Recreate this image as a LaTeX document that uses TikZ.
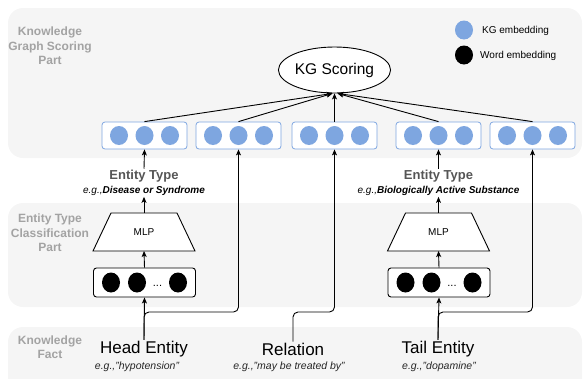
\documentclass[tikz,border=0pt]{standalone}
\usepackage{fontspec}
\setmainfont{Liberation Sans}
\usetikzlibrary{arrows.meta,shapes.geometric,calc}
\definecolor{panel}{HTML}{F5F5F5}
\definecolor{lbl}{HTML}{A3A3A3}
\definecolor{kgblue}{HTML}{7EA6E0}
\definecolor{typegray}{HTML}{555555}
\begin{document}
\begin{tikzpicture}[x=1pt,y=-1pt,
  panelbox/.style={fill=panel,draw=none,rounded corners=15pt},
  partlabel/.style={text=lbl,font=\fontsize{12}{14.5}\selectfont\bfseries,align=center},
  arr/.style={-{Stealth[length=6pt,width=5pt,inset=1.5pt]},line width=0.9pt},
  conn/.style={line width=0.9pt},
  kgbox/.style={draw=kgblue,line width=0.8pt,rounded corners=3pt,minimum width=85pt,minimum height=27pt,inner sep=0pt,fill=white},
  wbox/.style={draw=black,line width=0.9pt,rounded corners=3pt,minimum width=102pt,minimum height=29pt,inner sep=0pt,fill=white},
  kgdot/.style={fill=kgblue},
  typelbl/.style={text=typegray,font=\fontsize{13}{15}\selectfont\bfseries,inner sep=1pt},
  eglbl/.style={font=\fontsize{10}{12}\selectfont\itshape,inner sep=1pt},
  factlbl/.style={font=\fontsize{17}{20}\selectfont,inner sep=1pt},
  factex/.style={font=\fontsize{10.5}{12}\selectfont\itshape,text=black!85,inner sep=1pt},
  legendtxt/.style={font=\fontsize{10}{12}\selectfont,anchor=west,inner sep=0pt}
]
\useasboundingbox (0,0) rectangle (584,378);
\clip (0,0) rectangle (584,378);

% panels
\fill[panelbox] (8,8) rectangle (582,158);
\fill[panelbox] (8,203) rectangle (582,307);
\fill[panelbox] (8,327) rectangle (582,400);

% panel labels
\node[partlabel] (lkg) at (50,46) {Knowledge\\Graph Scoring\\Part};
\node[partlabel] (lcls) at (50,233) {Entity Type\\Classification\\Part};
\node[partlabel] (lfact) at (50,347) {Knowledge\\Fact};

% legend
\fill[kgblue] (464,30) ellipse (9pt and 9.5pt);
\node[legendtxt] (lg1) at (482,31) {KG embedding};
\fill[black] (464,55) ellipse (9pt and 9.5pt);
\node[legendtxt] (lg2) at (480,55.5) {Word embedding};

% KG scoring ellipse
\node[draw,ellipse,line width=0.9pt,fill=white,minimum width=103pt,minimum height=46pt,inner sep=0pt,
      font=\fontsize{15.5}{18}\selectfont] (kg) at (334.5,70) {KG Scoring};

% KG embedding boxes
\foreach \n/\x in {b1/144.5,b2/238.5,b3/334.5,b4/438.5,b5/532.5}{
  \node[kgbox] (\n) at (\x,135.5) {};
  \fill[kgdot] (\x-25.5,135.5) ellipse (9pt and 9.5pt);
  \fill[kgdot] (\x,135.5) ellipse (9pt and 9.5pt);
  \fill[kgdot] (\x+25.5,135.5) ellipse (9pt and 9.5pt);
}

% arrows to KG scoring
\draw[arr] (b1.north) -- ([xshift=-2pt]kg.south);
\draw[arr] (b2.north) -- ([xshift=-2pt]kg.south);
\draw[arr] (b3.north) -- (kg.south);
\draw[arr] (b4.north) -- ([xshift=3pt]kg.south);
\draw[arr] (b5.north) -- ([xshift=3pt]kg.south);

% entity type labels
\node[typelbl] (etL) at (144,176) {Entity Type};
\node[eglbl] (egL) at (144,191) {e.g.,\textbf{Disease or Syndrome}};
\node[typelbl] (etR) at (438.5,176) {Entity Type};
\node[eglbl] (egR) at (438.5,191) {e.g.,\textbf{Biologically Active Substance}};

% MLPs
\foreach \n/\x in {L/144,R/438.5}{
  \draw[line width=0.9pt,fill=white] (\x-33,213) -- (\x+33,213) -- (\x+51,251) -- (\x-51,251) -- cycle;
  \node[font=\fontsize{10}{12}\selectfont] (mlp\n) at (\x,232) {MLP};
  \coordinate (mlp\n top) at (\x,213);
  \coordinate (mlp\n bot) at (\x,251);
  \node[wbox] (w\n) at (\x+0.5,282.5) {};
  \fill[black] (\x-33,282.5) ellipse (9pt and 10pt);
  \fill[black] (\x-7,282.5) ellipse (9pt and 10pt);
  \fill[black] (\x+34,282.5) ellipse (9pt and 10pt);
  \node[font=\fontsize{11}{12}\selectfont,inner sep=0pt] (dots\n) at (\x+13.5,286) {...};
}

% arrows within classification part
\draw[arr] (wL.north) -- (mlpLbot);
\draw[arr] (wR.north) -- (mlpRbot);
\draw[arr] (mlpLtop) -- ([yshift=0pt]egL.south);
\draw[arr] (mlpRtop) -- ([yshift=0pt]egR.south);
\draw[arr] (etL.north) -- (b1.south);
\draw[arr] (etR.north) -- (b4.south);

% knowledge fact
\node[factlbl] (head) at (144,349) {Head Entity};
\node[factlbl] (rel) at (293,349) {Relation};
\node[factlbl] (tail) at (438,349) {Tail Entity};
\node[factex] (exh) at (137,367) {e.g.,"hypotension"};
\node[factex] (exr) at (289,367) {e.g.,"may be treated by"};
\node[factex] (ext) at (439,367) {e.g.,"dopamine"};

\coordinate (branchY) at (0,312);
\draw[arr] (head.north) -- (wL.south);
\draw[arr] (tail.north) -- (wR.south);
\draw[arr,rounded corners=5pt] (head.north) |- (b2.south |- branchY) -- (b2.south);
\draw[arr,rounded corners=5pt] (rel.north) |- (b3.south |- branchY) -- (b3.south);
\draw[arr,rounded corners=5pt] (tail.north) |- (b5.south |- branchY) -- (b5.south);
\end{tikzpicture}
\end{document}
